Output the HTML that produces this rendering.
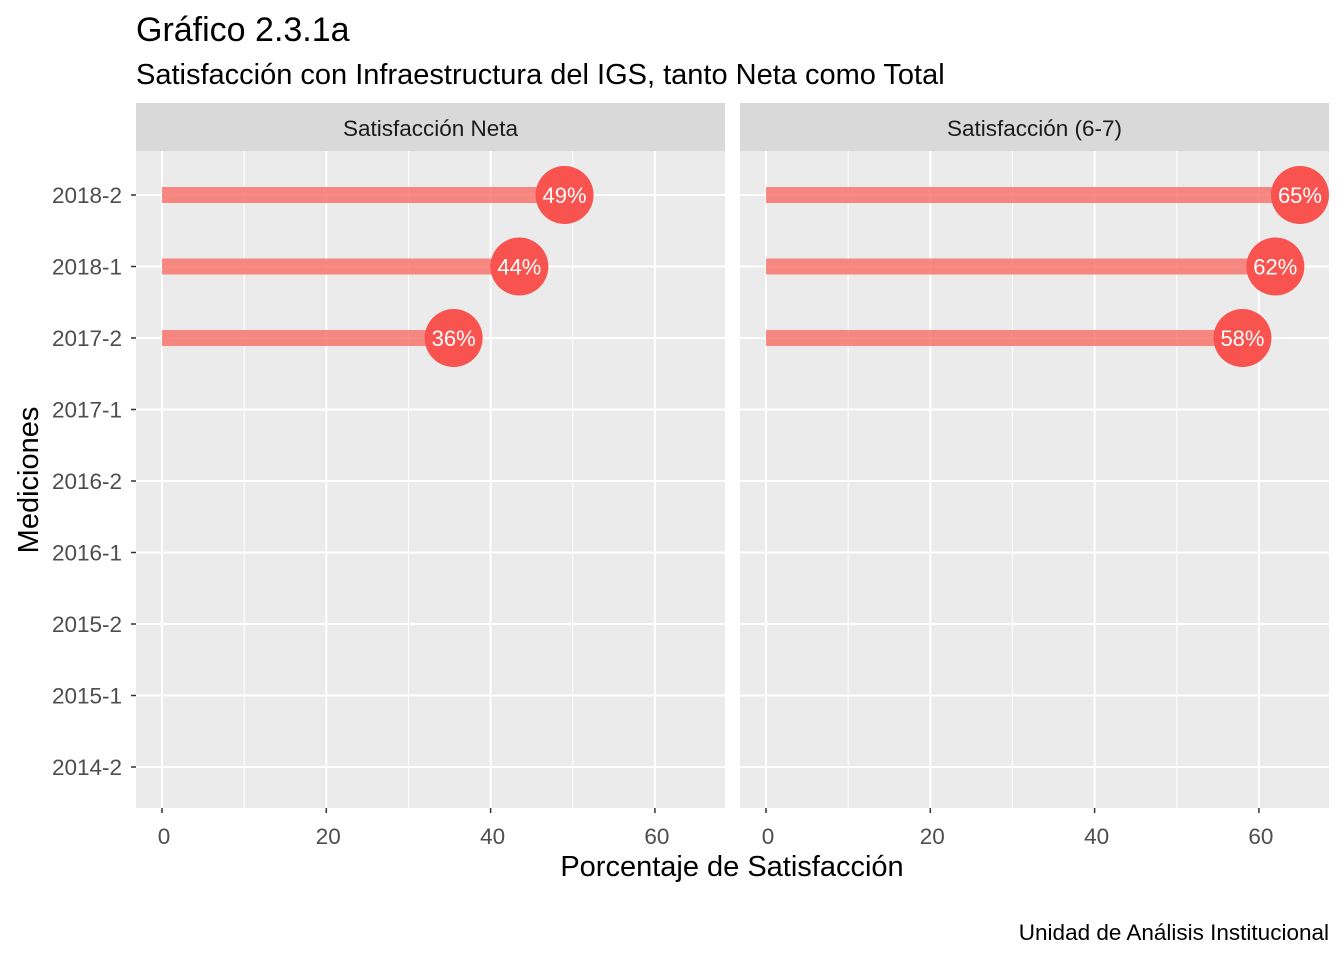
<!DOCTYPE html>
<html><head><meta charset="utf-8"><style>
body{margin:0;background:#fff;}
svg text{font-family:"Liberation Sans",Arial,sans-serif;}
</style></head><body>
<svg id="c" width="1344" height="960" xmlns="http://www.w3.org/2000/svg">
<text x="136" y="41" font-size="34" fill="#000">Gráfico 2.3.1a</text>
<text x="136" y="84" font-size="29" fill="#000">Satisfacción con Infraestructura del IGS, tanto Neta como Total</text>
<text x="732" y="876" font-size="29" text-anchor="middle" fill="#000">Porcentaje de Satisfacción</text>
<text transform="translate(38,480) rotate(-90)" font-size="29" text-anchor="middle" fill="#000">Mediciones</text>
<text x="1329" y="940" font-size="22.5" text-anchor="end" fill="#000">Unidad de Análisis Institucional</text>
<g id="plots"></g>
</svg>
<script>
const categories=["2014-2","2015-1","2015-2","2016-1","2016-2","2017-1","2017-2","2018-1","2018-2"];
const panels=["Satisfacción Neta","Satisfacción (6-7)"];
const dataCats=["2017-2","2018-1","2018-2"];
const netaValues=[35.5,43.5,49];
const totalValues=[58,62,65];
const xTicks=[0,20,40,60];
const series=[netaValues,totalValues];
const NS="http://www.w3.org/2000/svg";
const plotsG=document.getElementById('plots');
function el(t,a,p){const e=document.createElementNS(NS,t);for(const k in a)e.setAttribute(k,a[k]);(p||plotsG).appendChild(e);return e;}
const panelX=[136,740],pw=589,pTop=151,pBot=808;
function yPos(cat){return 767-categories.indexOf(cat)*71.5;}
panels.forEach((name,pi)=>{
  const x0=panelX[pi];
  function xPos(v){return x0+26+v*8.215;}
  const pg=el('g',{});
  
  
  const bg=el('rect',{x:x0,y:pTop,width:pw,height:pBot-pTop,fill:'#ebebeb'},pg);
  
  
  const st=el('rect',{x:x0,y:103,width:pw,height:48,fill:'#d9d9d9'},pg);
  
  
  const stt=el('text',{x:x0+pw/2,y:136,'font-size':22.5,'text-anchor':'middle',fill:'#1a1a1a'},pg);
  stt.textContent=name;
  
  
  for(let i=0;i<xTicks.length;i++){
    const v=xTicks[i];
    const mn=v+10;
    if(xPos(mn)<x0+pw){const m=el('line',{x1:xPos(mn),x2:xPos(mn),y1:pTop,y2:pBot,stroke:'#fff','stroke-width':1},pg);
      
      }
    const l=el('line',{x1:xPos(v),x2:xPos(v),y1:pTop,y2:pBot,stroke:'#fff','stroke-width':2},pg);
    
    
    const tk=el('line',{x1:xPos(v),x2:xPos(v),y1:pBot,y2:pBot+5,stroke:'#333','stroke-width':1.5},pg);
    
    
    const t=el('text',{x:xPos(v)+2,y:844,'font-size':22.5,'text-anchor':'middle',fill:'#4d4d4d'},pg);
    t.textContent=v;
    
    
  }
  categories.forEach(c=>{
    const l=el('line',{x1:x0,x2:x0+pw,y1:yPos(c),y2:yPos(c),stroke:'#fff','stroke-width':2},pg);
    
    
    if(pi===0){
      const tk=el('line',{x1:x0-5,x2:x0,y1:yPos(c),y2:yPos(c),stroke:'#333','stroke-width':1.5});
      
      
      const t=el('text',{x:x0-14,y:yPos(c)+8,'font-size':22.5,'text-anchor':'end',fill:'#4d4d4d'});
      t.textContent=c;
      
      
    }
  });
  const vals=series[pi];
  dataCats.forEach((c,i)=>{
    const v=vals[i];
    const b=el('rect',{x:xPos(0),y:yPos(c)-8,width:xPos(v)-xPos(0),height:16,fill:'#f8766d','fill-opacity':0.85},pg);
    
    
    const ci=el('circle',{cx:xPos(v),cy:yPos(c),r:29,fill:'#f8534f'},pg);
    
    
    const t=el('text',{x:xPos(v),y:yPos(c)+8,'font-size':22,'text-anchor':'middle',fill:'#fff'},pg);
    t.textContent=Math.round(v)+'%';
    
    
  });
});
</script>
</body></html>
